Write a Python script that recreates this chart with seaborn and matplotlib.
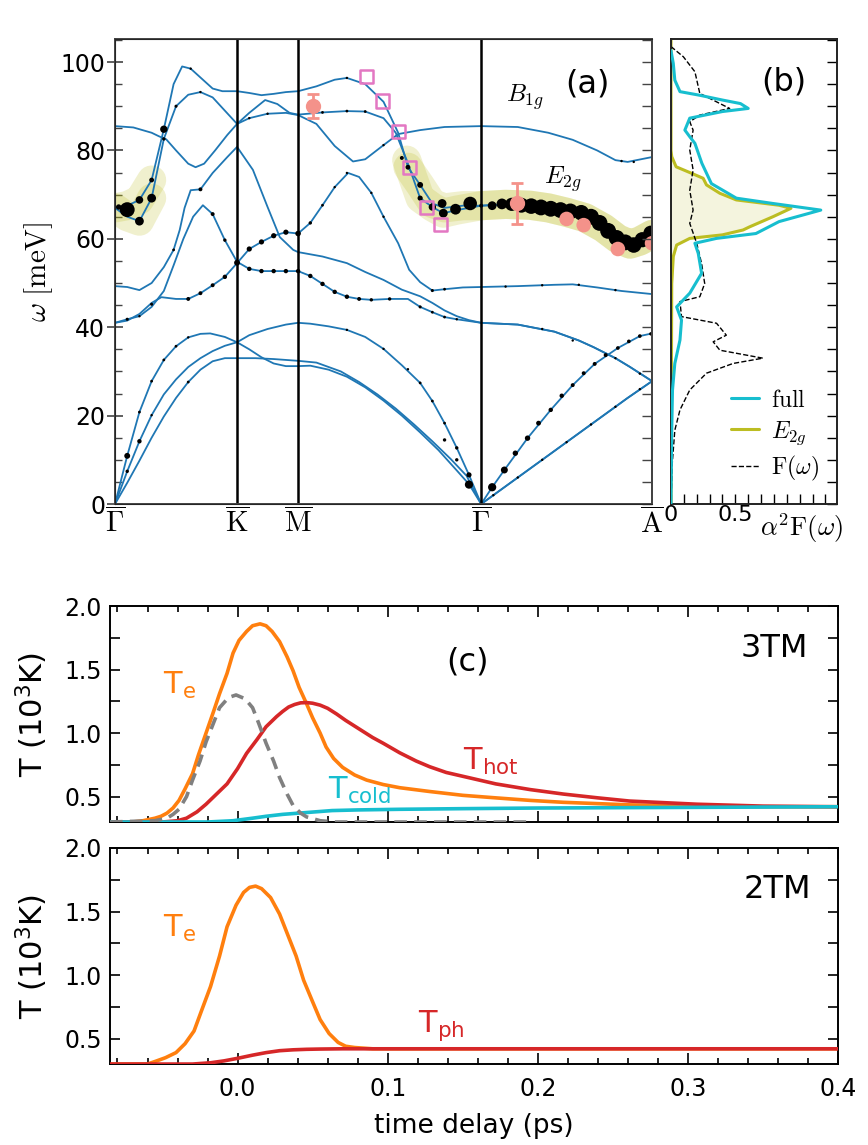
import numpy as np
import matplotlib
matplotlib.use('Agg')
import matplotlib.pyplot as plt
import seaborn as sns
from matplotlib.ticker import MultipleLocator, FixedLocator

# =============================================================================
# 1. DATA : phonon bands along the path (q in path units, w in meV)
# =============================================================================
sym_q = [0.0, 1.0, 1.5, 3.0, 4.4]
sym_labels = [r'$\overline{\Gamma}$', r'$\overline{\mathrm{K}}$', r'$\overline{\mathrm{M}}$',
              r'$\overline{\Gamma}$', r'$\overline{\mathrm{A}}$']

ta1_q = [0, 0.1, 0.2, 0.3, 0.4, 0.5, 0.6, 0.7, 0.8, 0.9, 1.0, 1.15, 1.3, 1.5, 1.65, 1.85, 2.0,
         2.15, 2.3, 2.45, 2.6, 2.75, 2.88, 3.0, 3.3, 3.6, 3.9, 4.2, 4.4]
ta1_w = [0, 4.8, 9.8, 15, 19.8, 24, 27.6, 30.4, 32.3, 33, 33, 33, 32.8, 32.4, 32, 30, 27.6,
         24.8, 21.6, 18, 14.2, 10.2, 6.4, 0, 6, 12, 18, 24, 27.8]
ta2_q = [0, 0.1, 0.2, 0.3, 0.4, 0.5, 0.6, 0.7, 0.8, 0.9, 1.0, 1.1, 1.2, 1.3, 1.4, 1.5, 1.6, 1.75,
         1.9, 2.05, 2.2, 2.35, 2.5, 2.65, 2.8, 2.9, 3.0, 3.3, 3.6, 3.9, 4.2, 4.4]
ta2_w = [0, 7.4, 14.2, 20.1, 24.8, 28.2, 31, 33, 34.6, 35.8, 36.6, 35, 33.2, 31.8, 31.2, 31.2,
         31.3, 30.4, 28.8, 26.4, 23.4, 20, 16.2, 12.2, 7.6, 4.5, 0, 6, 12, 18, 24, 27.8]
la_q = [0, 0.1, 0.2, 0.3, 0.4, 0.5, 0.6, 0.7, 0.78, 0.9, 1.0, 1.1, 1.25, 1.4, 1.5, 1.6, 1.75,
        1.9, 2.05, 2.2, 2.35, 2.5, 2.6, 2.7, 2.8, 2.9, 3.0, 3.09, 3.19, 3.38, 3.57, 3.75, 3.93,
        4.12, 4.3, 4.4]
la_w = [0, 10.9, 20.8, 27.8, 32.6, 35.7, 37.7, 38.5, 38.6, 37.8, 36.6, 38.2, 39.6, 40.6, 41,
        40.8, 40.2, 39.4, 37.8, 35.1, 31.4, 27.4, 23.3, 18.3, 12.7, 6.6, 0, 3.8, 7.7, 14.9, 21.3,
        26.9, 31.7, 35.3, 38, 38.6]
o1_q = [0, 0.1, 0.2, 0.3, 0.4, 0.48, 0.56, 0.64, 0.72, 0.8, 0.9, 1.0, 1.1, 1.2, 1.3, 1.4, 1.5,
        1.6, 1.7, 1.8, 1.9, 2.0, 2.1, 2.25, 2.4, 2.5, 2.6, 2.7, 2.8, 2.9, 3.0, 3.3, 3.6, 3.8,
        3.92, 4.1, 4.22, 4.4]
o1_w = [41, 41.8, 42.5, 44.6, 48.2, 54, 60, 65, 67.6, 65.6, 59.7, 54.8, 53.2, 52.7, 52.7, 52.7,
        52.7, 51.6, 49.8, 48, 46.9, 46.4, 46.2, 46.4, 46.4, 44.6, 43.4, 42.3, 41.8, 41.4, 41,
        40.6, 39, 37, 35.5, 33, 31, 27.8]
o2_q = [0, 0.1, 0.2, 0.3, 0.38, 0.5, 0.6, 0.7, 0.8, 0.9, 1.0, 1.1, 1.2, 1.3, 1.4, 1.5, 1.6, 1.7,
        1.8, 1.91, 2.0, 2.1, 2.2, 2.32, 2.41, 2.5, 2.6, 2.7, 2.85, 3.0, 3.3, 3.6, 3.75, 3.95,
        4.15, 4.4]
o2_w = [41, 41.5, 43, 45.5, 46.8, 46.4, 46.4, 47.7, 49.5, 51.4, 54.5, 57.7, 59.3, 60.7, 61.5,
        61.2, 63.6, 67.6, 71.7, 74.9, 74, 70.4, 65, 59, 53, 50.2, 48.3, 48.6, 49, 49.1, 49.3,
        49.6, 49.7, 49, 48.2, 47.5]
o3_q = [0, 0.1, 0.2, 0.3, 0.4, 0.48, 0.53, 0.57, 0.62, 0.7, 0.8, 0.92, 1.0, 1.13, 1.25, 1.35,
        1.46, 1.5, 1.7, 1.9, 2.05, 2.2, 2.35, 2.5, 2.6, 2.7, 2.8, 2.9, 3.0, 3.3, 3.6, 3.8, 3.92,
        4.1, 4.22, 4.4]
o3_w = [49.3, 49.1, 48.4, 50, 53.6, 57.5, 62, 67, 71, 71.2, 74.9, 78.5, 80.8, 75.6, 67.2, 60.4,
        57.5, 57, 56, 54.5, 52.5, 50.7, 48.5, 47, 45.5, 43.8, 42.5, 41.6, 41, 40.6, 39, 37, 35.5,
        33, 31, 27.8]
o4_q = [0, 0.1, 0.2, 0.3, 0.4, 0.5, 0.6, 0.7, 0.8, 0.9, 1.0, 1.1, 1.23, 1.33, 1.43, 1.5, 1.7,
        1.9, 2.05, 2.2, 2.3, 2.39, 2.5, 2.6, 2.69, 2.8, 3.0, 3.2, 3.4, 3.55, 3.7, 3.85, 4.0,
        4.12, 4.22, 4.3, 4.4]
o4_w = [67, 65, 64, 69.2, 82.6, 90, 92.6, 93.2, 92, 89, 86, 88.5, 91.4, 90.5, 88.5, 88.1, 88.6,
        88.9, 88.8, 87.3, 84, 77.8, 69.2, 67.2, 65.8, 66.5, 67.5, 67.8, 67.6, 67, 66, 64.8, 62.5,
        60, 58.8, 59.5, 61]
o5_q = [0, 0.1, 0.2, 0.3, 0.4, 0.48, 0.55, 0.62, 0.72, 0.8, 0.88, 1.0, 1.1, 1.2, 1.3, 1.4, 1.5,
        1.65, 1.8, 1.9, 2.05, 2.2, 2.32, 2.4, 2.5, 2.6, 2.7, 2.85, 3.0, 3.2, 3.4, 3.55, 3.7,
        3.85, 4.0, 4.12, 4.22, 4.3, 4.4]
o5_w = [67, 67.5, 68.8, 73.3, 84.8, 95, 99, 98.5, 96, 94, 93.4, 93.4, 93, 92.5, 92.8, 93.2,
        93.4, 94.5, 96, 96.4, 95, 91, 84, 76.2, 72.2, 68, 67, 67.5, 67.5, 67.8, 67.6, 67, 66,
        64.8, 62.5, 60, 58.8, 59.5, 61]
b1g_q = [0, 0.15, 0.3, 0.36, 0.42, 0.5, 0.6, 0.66, 0.73, 0.82, 0.92, 1.0, 1.1, 1.25, 1.4, 1.5,
         1.65, 1.8, 1.95, 2.05, 2.2, 2.32, 2.5, 2.7, 3.0, 3.3, 3.55, 3.75, 3.95, 4.1, 4.2, 4.4]
b1g_w = [85.5, 85.2, 84, 83.2, 82.5, 80, 77, 76.2, 77, 80, 83.5, 86, 87.3, 88.3, 88.5, 88, 86,
         81, 77.5, 78, 81.2, 83.7, 84.6, 85.3, 85.5, 85.3, 84, 82.4, 80, 77.8, 77.4, 78.5]

# electron-phonon coupling dots (q, w, marker area)
dot_q = [0.10, 0.03, 0.20, 0.20, 0.30, 0.30, 0.40, 0.40, 0.50, 0.62, 0.70, 0.48, 0.70, 0.80,
         0.90, 0.30, 0.20, 0.60, 0.70, 0.80, 0.90, 1.00, 0.10, 0.10, 0.20, 0.20, 0.30, 0.30,
         0.40, 0.50, 0.60, 0.60, 0.10,
         1.10, 1.20, 1.30, 1.40, 1.50, 1.10, 1.20, 1.30, 1.40, 1.50, 1.10, 1.25,
         1.60, 1.70, 1.80, 1.90, 2.10, 2.20, 1.60, 1.70, 1.80, 1.90, 2.00, 2.10, 2.25, 2.50,
         2.60, 2.70, 2.80, 1.70, 1.90, 2.05, 1.90, 2.20, 2.60, 2.70, 2.35, 2.40, 2.50, 2.50,
         2.60, 2.68, 2.69, 2.79, 2.91, 3.00,
         1.90, 2.20, 2.40, 2.50, 2.60, 2.70, 2.80, 2.90, 2.90, 2.70, 2.80,
         3.09, 3.19, 3.28, 3.38, 3.47, 3.57, 3.66, 3.75, 3.84, 3.93, 4.02, 4.12, 4.21, 4.30,
         4.39, 3.10, 3.30, 3.50, 3.70, 3.90, 4.10, 4.30, 3.50, 3.75, 4.10, 4.30, 3.20, 3.50,
         3.80, 4.10, 4.15, 4.25,
         3.09, 3.17, 3.25, 3.33, 3.41, 3.49, 3.57, 3.65, 3.73, 3.82, 3.90, 3.97, 4.04, 4.11,
         4.18, 4.25, 4.32, 4.39]
dot_w = [66.6, 67.2, 68.8, 64.0, 69.2, 73.3, 84.8, 82.6, 90.0, 98.5, 93.2, 57.5, 71.2, 65.6,
         59.7, 45.2, 42.5, 46.4, 47.7, 49.5, 51.4, 54.6, 10.9, 7.4, 20.8, 14.2, 27.8, 20.1,
         32.6, 35.7, 27.6, 37.7, 41.8,
         57.7, 59.3, 60.7, 61.5, 61.2, 53.2, 52.7, 52.7, 52.7, 52.7, 87.3, 88.3,
         63.6, 67.6, 71.7, 74.9, 70.4, 65.0, 51.6, 49.8, 48.0, 46.9, 46.4, 46.2, 46.4, 44.6,
         43.4, 42.3, 41.8, 88.6, 88.9, 88.8, 96.4, 81.2, 48.3, 48.6, 78.3, 76.2, 72.2, 69.2,
         67.2, 68.0, 65.8, 66.7, 68.0, 67.5,
         39.4, 35.1, 30.5, 27.4, 23.3, 18.3, 12.7, 6.6, 4.4, 14.5, 10.0,
         3.8, 7.7, 11.5, 14.9, 18.3, 21.3, 24.5, 26.9, 29.6, 31.7, 33.7, 35.3, 36.8, 38.0,
         38.5, 2.0, 6.0, 10.0, 14.0, 18.0, 22.0, 26.0, 39.6, 37.0, 33.0, 29.5, 49.2, 49.5,
         49.6, 48.4, 77.6, 77.4,
         67.5, 67.9, 67.8, 67.6, 67.4, 67.1, 66.8, 66.5, 66.2, 65.9, 65.0, 63.6, 61.8, 60.2,
         59.2, 58.6, 59.8, 61.3]
dot_s = [115, 15, 30, 40, 40, 12, 28, 6, 5, 3, 3, 4, 8, 8,
         6, 5, 3, 8, 8, 8, 10, 18, 18, 6, 4, 10, 4, 3,
         4, 4, 4, 3, 5,
         14, 14, 14, 14, 16, 10, 10, 10, 10, 10, 3, 3,
         6, 4, 3, 3, 3, 3, 10, 10, 10, 10, 8, 6, 6, 5,
         4, 4, 3, 4, 4, 4, 3, 3, 5, 4, 8, 12, 18, 14,
         28, 40, 40, 60, 95, 8,
         3, 3, 3, 4, 4, 4, 6, 14, 35, 6, 6,
         35, 25, 15, 15, 12, 10, 10, 8, 8, 8, 8, 7, 7, 7,
         6, 3, 3, 3, 3, 3, 3, 3, 3, 3, 3, 3, 3, 3,
         3, 3, 3, 3,
         40, 60, 90, 115, 125, 130, 130, 130, 130, 125, 130, 130, 130, 130,
         130, 125, 120, 115]

# experimental points
pink_q = [1.62, 3.29, 3.70, 3.84, 4.12, 4.40]
pink_w = [90.0, 68.0, 64.5, 63.1, 57.7, 59.0]
pink_err = [2.7, 4.6, 0, 0, 0, 0]
sq_q = [2.06, 2.19, 2.32, 2.41, 2.55, 2.67]
sq_w = [96.8, 91.2, 84.2, 76.2, 67.0, 63.3]

# =============================================================================
# 2. DATA : Eliashberg function (b)
# =============================================================================
full_v = [0, 0.018, 0.03, 0.07, 0.22, 0.40, 0.54, 0.60, 0.40, 0.146, 0.108, 0.146, 0.186,
          0.24, 0.314, 0.508, 0.792, 1.164, 0.84, 0.66, 0.354, 0.186, 0.212, 0.238, 0.146,
          0.044, 0.082, 0.07, 0.03, 0.012, 0.006, 0]
full_w = [102.6, 99.7, 95.9, 93.3, 92.5, 91.4, 90.6, 89.5, 88.8, 87.3, 84.6, 83.1, 81.6, 77.1,
          72.5, 69.2, 68.0, 66.5, 63.9, 61.2, 60.1, 59.0, 56.7, 52.2, 47.7, 44.6, 41.6, 37.1,
          31.8, 25.8, 16.7, 0]
e2g_v = [0, 0, 0.006, 0.04, 0.146, 0.25, 0.276, 0.38, 0.508, 0.84, 0.932, 0.792, 0.61, 0.56,
         0.40, 0.146, 0.044, 0.018, 0.006, 0]
e2g_w = [105, 80, 78.6, 76.3, 75.0, 73.7, 72.2, 70.3, 68.8, 67.6, 66.9, 65.0, 62.7, 62.0, 60.9,
         60.1, 58.6, 56.0, 49.9, 0]
dos_v = [0, 0.096, 0.186, 0.224, 0.456, 0.224, 0.146, 0.172, 0.146, 0.172, 0.146, 0.172, 0.146,
         0.20, 0.238, 0.262, 0.224, 0.07, 0.082, 0.354, 0.43, 0.328, 0.38, 0.714, 0.482, 0.276,
         0.146, 0.07, 0.03, 0.01, 0]
dos_w = [103.5, 101.2, 97.8, 92.9, 89.5, 88.0, 86.5, 84.6, 80.1, 75.6, 71.0, 66.5, 63.5, 59.0,
         54.4, 49.9, 46.9, 45.8, 42.4, 40.9, 38.2, 36.7, 34.8, 33.0, 31.8, 29.6, 25.8, 21.3,
         16.7, 9.2, 0]

# =============================================================================
# 3. DATA : temperatures (c)
# =============================================================================
te3_t = [-0.085, -0.07, -0.063, -0.059, -0.055, -0.051, -0.047, -0.043, -0.039, -0.035, -0.030,
         -0.026, -0.021, -0.016, -0.012, -0.007, -0.003, 0.001, 0.006, 0.010, 0.015, 0.019,
         0.023, 0.028, 0.033, 0.037, 0.041, 0.046, 0.050, 0.055, 0.059, 0.064, 0.070, 0.078,
         0.086, 0.097, 0.108, 0.128, 0.150, 0.172, 0.195, 0.217, 0.261, 0.306, 0.35, 0.40]
te3_T = [0.30, 0.30, 0.31, 0.32, 0.33, 0.345, 0.37, 0.41, 0.47, 0.56, 0.68, 0.83, 1.00, 1.17,
         1.31, 1.47, 1.63, 1.73, 1.80, 1.845, 1.86, 1.845, 1.80, 1.72, 1.60, 1.49, 1.36, 1.23,
         1.12, 1.00, 0.89, 0.80, 0.73, 0.67, 0.63, 0.595, 0.57, 0.54, 0.51, 0.49, 0.47, 0.455,
         0.435, 0.425, 0.42, 0.42]
hot_t = [-0.085, -0.05, -0.04, -0.034, -0.027, -0.021, -0.014, -0.007, 0.0, 0.006, 0.013, 0.019,
         0.026, 0.030, 0.034, 0.038, 0.042, 0.046, 0.050, 0.055, 0.060, 0.066, 0.072, 0.078,
         0.084, 0.090, 0.097, 0.108, 0.119, 0.128, 0.139, 0.150, 0.172, 0.195, 0.217, 0.240,
         0.261, 0.306, 0.35, 0.40]
hot_T = [0.30, 0.30, 0.31, 0.33, 0.38, 0.44, 0.52, 0.60, 0.72, 0.84, 0.95, 1.05, 1.13, 1.17,
         1.205, 1.225, 1.238, 1.24, 1.235, 1.22, 1.195, 1.15, 1.10, 1.055, 1.01, 0.965, 0.92,
         0.845, 0.78, 0.735, 0.69, 0.66, 0.60, 0.555, 0.52, 0.49, 0.465, 0.44, 0.425, 0.42]
cold_t = [-0.085, -0.02, -0.003, 0.01, 0.019, 0.03, 0.041, 0.052, 0.063, 0.08, 0.108, 0.15,
          0.2, 0.3, 0.4]
cold_T = [0.30, 0.30, 0.31, 0.33, 0.345, 0.36, 0.37, 0.38, 0.39, 0.395, 0.40, 0.405, 0.41,
          0.415, 0.42]
pulse_t = [-0.085, -0.055, -0.047, -0.043, -0.039, -0.034, -0.030, -0.025, -0.021, -0.016,
           -0.012, -0.006, -0.001, 0.005, 0.010, 0.014, 0.019, 0.024, 0.028, 0.033, 0.037,
           0.042, 0.046, 0.055, 0.065, 0.08, 0.195]
pulse_T = [0.30, 0.31, 0.33, 0.36, 0.40, 0.50, 0.63, 0.78, 0.93, 1.08, 1.20, 1.28, 1.30, 1.27,
           1.20, 1.08, 0.92, 0.78, 0.65, 0.52, 0.43, 0.37, 0.34, 0.31, 0.30, 0.30, 0.30]
te2_t = [-0.085, -0.06, -0.055, -0.048, -0.041, -0.035, -0.029, -0.024, -0.018, -0.012, -0.007,
         -0.001, 0.004, 0.008, 0.012, 0.016, 0.022, 0.028, 0.033, 0.039, 0.044, 0.05, 0.055,
         0.061, 0.067, 0.072, 0.078, 0.09, 0.2, 0.4]
te2_T = [0.30, 0.30, 0.32, 0.35, 0.39, 0.46, 0.56, 0.72, 0.91, 1.15, 1.38, 1.55, 1.65, 1.69,
         1.70, 1.68, 1.61, 1.48, 1.33, 1.15, 0.96, 0.79, 0.65, 0.54, 0.47, 0.44, 0.43, 0.42,
         0.42, 0.42]
ph_t = [-0.085, -0.03, -0.018, -0.009, 0.0, 0.01, 0.019, 0.028, 0.037, 0.046, 0.055, 0.07, 0.2,
        0.4]
ph_T = [0.30, 0.30, 0.31, 0.325, 0.345, 0.37, 0.39, 0.405, 0.412, 0.416, 0.418, 0.42, 0.42,
        0.42]

# =============================================================================
# 4. STYLE
# =============================================================================
sns.set_style('ticks')
plt.rcParams['font.family'] = ['DejaVu Sans']
plt.rcParams['mathtext.fontset'] = 'cm'
plt.rcParams['text.color'] = 'black'
plt.rcParams['axes.labelcolor'] = 'black'
plt.rcParams['xtick.color'] = 'black'
plt.rcParams['ytick.color'] = 'black'

BLUE = '#1f77b4'
ORANGE = '#ff7f0e'
RED = '#d62728'
CYAN = '#17becf'
OLIVE = '#bcbd22'
SALMON = '#f4928a'


def line(ax, x, y, **kw):
    sns.lineplot(x=x, y=y, ax=ax, estimator=None, sort=False, **kw)
    return ax.lines[-1]


fig = plt.figure(figsize=(8.68, 11.45), dpi=100)
ax_a = fig.add_axes([0.1325, 0.5598, 0.6187, 0.4061])
ax_b = fig.add_axes([0.7730, 0.5598, 0.1913, 0.4061])
ax_c1 = fig.add_axes([0.1267, 0.2821, 0.8387, 0.1886])
ax_c2 = fig.add_axes([0.1267, 0.0707, 0.8387, 0.1887])

# =============================================================================
# 5. PANEL (a) : dispersion
# =============================================================================
o4_q_arr, o4_w_arr = np.array(o4_q), np.array(o4_w)
o5_q_arr, o5_w_arr = np.array(o5_q), np.array(o5_w)
for qa, wa in [(o4_q_arr, o4_w_arr), (o5_q_arr, o5_w_arr)]:
    for m in [qa <= 0.3, qa >= 2.38]:
        line(ax_a, qa[m], wa[m], color=OLIVE, alpha=0.22, lw=21,
             solid_capstyle='round', zorder=1)

for bq, bw in [(ta1_q, ta1_w), (ta2_q, ta2_w), (la_q, la_w), (o1_q, o1_w), (o2_q, o2_w),
               (o3_q, o3_w), (o4_q, o4_w), (o5_q, o5_w), (b1g_q, b1g_w)]:
    line(ax_a, bq, bw, color=BLUE, lw=1.3, zorder=2)

for q in sym_q[1:4]:
    ax_a.axvline(q, color='black', lw=1.8, zorder=2.5)

sns.scatterplot(x=dot_q, y=dot_w, size=dot_s, sizes=(min(dot_s), max(dot_s)),
                size_norm=(min(dot_s), max(dot_s)), color='black', edgecolor='none',
                legend=False, ax=ax_a, zorder=3)

perr = np.array(pink_err) > 0
ax_a.errorbar(np.array(pink_q)[perr], np.array(pink_w)[perr], yerr=np.array(pink_err)[perr],
              fmt='o', color=SALMON, ms=10, capsize=4, elinewidth=2, capthick=2, zorder=4)
sns.scatterplot(x=np.array(pink_q)[~perr], y=np.array(pink_w)[~perr], color=SALMON, s=110,
                edgecolor='none', ax=ax_a, zorder=4)
ax_a.scatter(sq_q, sq_w, marker='s', s=90, facecolors='none', edgecolors='#e377c2',
             linewidths=1.8, zorder=5)

ax_a.text(3.36, 92, r'$B_{1g}$', fontsize=18, ha='center', va='center')
ax_a.text(3.67, 73.5, r'$E_{2g}$', fontsize=18, ha='center', va='center')
ax_a.text(3.87, 95, '(a)', fontsize=23, ha='center', va='center')

ax_a.set_xlim(0, 4.4)
ax_a.set_ylim(0, 105.2)
ax_a.set_xticks(sym_q)
ax_a.set_xticklabels(sym_labels, fontsize=21)
ax_a.tick_params(axis='x', length=0, pad=3)
ax_a.yaxis.set_major_locator(MultipleLocator(20))
ax_a.yaxis.set_minor_locator(MultipleLocator(5))
ax_a.tick_params(axis='y', which='major', direction='inout', length=12, width=1.2,
                 labelsize=17, pad=1, color='#444444', labelcolor='black')
ax_a.tick_params(axis='y', which='minor', direction='in', length=5, width=1.0,
                 color='#444444')
ax_a.set_ylabel(r'$\omega\ [\mathrm{meV}]$', fontsize=21)
ax_a.yaxis.set_label_coords(-0.112, 0.5)
for s in ax_a.spines.values():
    s.set_color('#444444')
    s.set_linewidth(1.4)

ax_ar = ax_a.twinx()
ax_ar.set_ylim(0, 105.2)
ax_ar.yaxis.set_major_locator(MultipleLocator(5))
ax_ar.tick_params(axis='y', direction='in', length=7, width=1.0, labelright=False,
                  color='#444444')
ax_ar.spines['right'].set_color('#444444')
ax_ar.spines['right'].set_linewidth(1.4)

# =============================================================================
# 6. PANEL (b) : alpha^2 F
# =============================================================================
ax_b.fill_betweenx(e2g_w, 0, e2g_v, color='#f4f4de', zorder=1)
h_full = line(ax_b, full_v, full_w, color=CYAN, lw=2.2, zorder=3)
h_e2g = line(ax_b, e2g_v, e2g_w, color=OLIVE, lw=2.2, zorder=2)
h_dos = line(ax_b, dos_v, dos_w, color='black', lw=1.0, linestyle='--', zorder=2)
ax_b.legend([h_full, h_e2g, h_dos], [r'$\mathrm{full}$', r'$E_{2g}$', r'$\mathrm{F}(\omega)$'],
            loc='lower right', bbox_to_anchor=(1.02, 0.0), frameon=False, fontsize=17,
            handlelength=1.2, handletextpad=0.5, labelspacing=0.3)
ax_b.text(0.876, 95.5, '(b)', fontsize=23, ha='center', va='center')
ax_b.set_xlim(0, 1.29)
ax_b.set_ylim(0, 105.2)
ax_b.xaxis.set_major_locator(FixedLocator([0, 0.5]))
ax_b.set_xticklabels(['0', '0.5'])
ax_b.xaxis.set_minor_locator(MultipleLocator(0.1))
ax_b.tick_params(axis='x', which='both', direction='in', length=7, width=1.0, labelsize=16,
                 pad=1)
ax_b.yaxis.set_major_locator(MultipleLocator(5))
ax_b.tick_params(axis='y', direction='in', length=7, width=1.0, left=False, right=True,
                 labelleft=False)
for s in ax_b.spines.values():
    s.set_color('#222222')
    s.set_linewidth(1.4)
fig.text(802 / 868, 1 - 528 / 1145, r'$\alpha^2\mathrm{F}(\omega)$', fontsize=19,
         ha='center', va='center')

# =============================================================================
# 7. PANELS (c) : two/three temperature models
# =============================================================================
line(ax_c1, te3_t, te3_T, color=ORANGE, lw=2.6, zorder=2)
line(ax_c1, hot_t, hot_T, color=RED, lw=2.6, zorder=2)
line(ax_c1, cold_t, cold_T, color=CYAN, lw=2.6, zorder=3)
line(ax_c1, pulse_t, pulse_T, color='grey', lw=2.6, linestyle=(0, (3.5, 2)), zorder=4)

line(ax_c2, te2_t, te2_T, color=ORANGE, lw=2.6, zorder=2)
line(ax_c2, ph_t, ph_T, color=RED, lw=2.6, zorder=3)

lab = dict(fontsize=22, math_fontfamily='dejavusans', va='baseline', ha='left')
ax_c1.text(-0.05, 1.31, r'T$_{\mathrm{e}}$', color=ORANGE, **lab)
ax_c1.text(0.15, 0.71, r'T$_{\mathrm{hot}}$', color=RED, **lab)
ax_c1.text(0.06, 0.485, r'T$_{\mathrm{cold}}$', color=CYAN, **lab)
ax_c1.text(0.38, 1.6, '3TM', fontsize=23, ha='right', va='baseline')
ax_c1.text(0.139, 1.56, '(c)', fontsize=23, ha='left', va='center')
ax_c2.text(-0.05, 1.30, r'T$_{\mathrm{e}}$', color=ORANGE, **lab)
ax_c2.text(0.12, 0.555, r'T$_{\mathrm{ph}}$', color=RED, **lab)
ax_c2.text(0.382, 1.61, '2TM', fontsize=23, ha='right', va='baseline')

for ax in [ax_c1, ax_c2]:
    ax.set_xlim(-0.085, 0.4)
    ax.set_ylim(0.3, 2.0)
    ax.xaxis.set_major_locator(MultipleLocator(0.1))
    ax.xaxis.set_minor_locator(MultipleLocator(0.02))
    ax.yaxis.set_major_locator(MultipleLocator(0.5))
    ax.yaxis.set_minor_locator(MultipleLocator(0.25))
    ax.tick_params(which='both', direction='in', top=True, right=True, width=1.2,
                   labelsize=17)
    ax.tick_params(axis='x', which='major', length=8, pad=9)
    ax.tick_params(axis='x', which='minor', length=4)
    ax.tick_params(axis='y', which='both', length=7, pad=6)
    ax.set_ylabel(r'T (10$^{3}$K)', fontsize=22, math_fontfamily='dejavusans')
    ax.yaxis.set_label_coords(-0.082, 0.5)
    for s in ax.spines.values():
        s.set_color('black')
        s.set_linewidth(1.4)
    ax.set_xlabel('')

ax_c1.tick_params(axis='x', labelbottom=False)
ax_c2.set_xlabel('time delay (ps)', fontsize=19)
ax_c2.xaxis.set_label_coords(0.5, -0.225)

plt.savefig('out.png', dpi=100)
